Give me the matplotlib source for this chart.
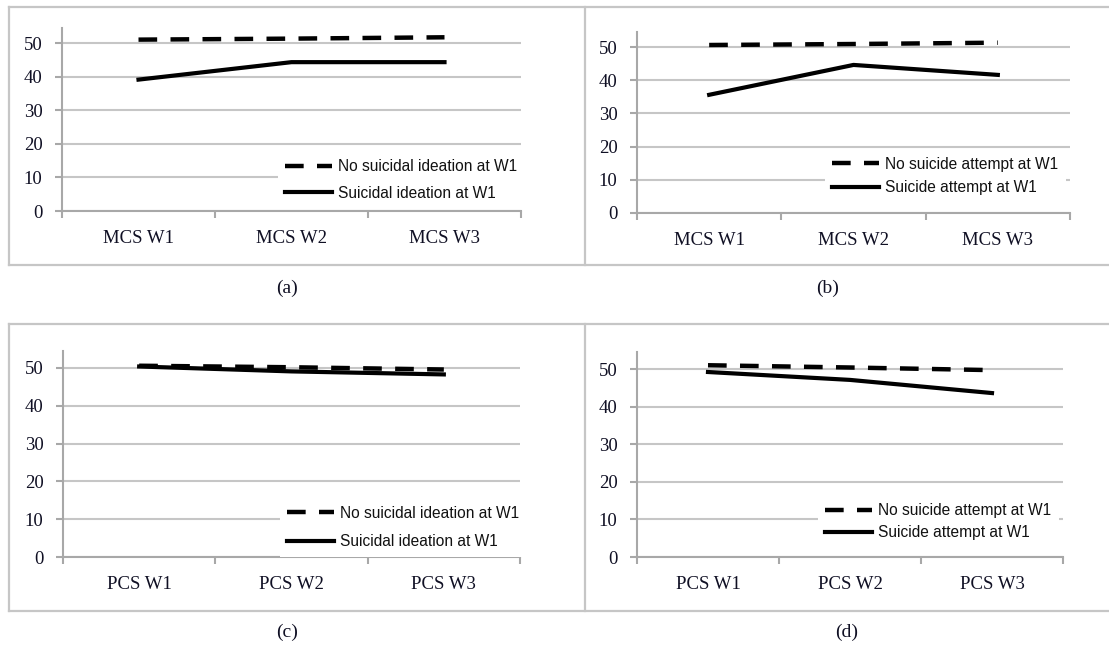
import matplotlib.pyplot as plt
from matplotlib.lines import Line2D

# categories and series
mcs_labels = ['MCS W1', 'MCS W2', 'MCS W3']
pcs_labels = ['PCS W1', 'PCS W2', 'PCS W3']

a_no_ideation = [51.0, 51.3, 51.7]
a_ideation = [39.1, 44.3, 44.3]
b_no_attempt = [50.6, 50.9, 51.3]
b_attempt = [35.6, 44.6, 41.6]
c_no_ideation = [50.6, 50.2, 49.6]
c_ideation = [50.4, 49.1, 48.3]
d_no_attempt = [51.0, 50.4, 49.7]
d_attempt = [49.2, 47.1, 43.6]

ideation_names = ['No suicidal ideation at W1', 'Suicidal ideation at W1']
attempt_names = ['No suicide attempt at W1', 'Suicide attempt at W1']

W, H = 1109, 649
fig = plt.figure(figsize=(W / 100, H / 100), dpi=100)

GRID = '#c6c6c6'
AXIS = '#a8a8a8'
TXT = '#101024'
SERIF = 'Liberation Serif'


def px_axes(left, right, y0, y50):
    scale = (y0 - y50) / 50.0
    top = y0 - 54.5 * scale
    return fig.add_axes([left / W, 1 - y0 / H, (right - left) / W, (y0 - top) / H])


def panel(ax, labels, no_vals, yes_vals, names, leg_x, leg_y, spacing):
    x = range(len(labels))
    ax.set_xlim(-0.5, 2.5)
    ax.set_ylim(0, 54.5)
    ax.set_yticks(range(0, 51, 10))
    ax.yaxis.grid(True, color=GRID, lw=1.5)
    ax.set_axisbelow(True)
    for s in ['top', 'right']:
        ax.spines[s].set_visible(False)
    for s in ['left', 'bottom']:
        ax.spines[s].set_color(AXIS)
        ax.spines[s].set_linewidth(1.5)
    ax.plot(x, no_vals, color='black', lw=3.2, ls=(0, (4.2, 3.0)), label=names[0])
    ax.plot(x, yes_vals, color='black', lw=3.0, label=names[1])
    ax.set_xticks(list(x))
    ax.set_xticklabels(labels, fontfamily=SERIF, fontsize=13.5, color=TXT)
    ax.set_xticks([-0.5, 0.5, 1.5, 2.5], minor=True)
    ax.tick_params(axis='x', which='major', length=0, pad=14)
    ax.tick_params(axis='x', which='minor', length=5, width=1.5, color=AXIS)
    ax.tick_params(axis='y', length=5, width=1.5, color=AXIS, pad=9,
                   labelsize=13.5, labelcolor=TXT)
    for t in ax.get_yticklabels():
        t.set_fontfamily(SERIF)
    leg = ax.legend(loc='center left', bbox_to_anchor=((leg_x - 7.5) / W, 1 - leg_y / H),
                    bbox_transform=fig.transFigure, frameon=True, fancybox=False,
                    framealpha=1, edgecolor='none', facecolor='white',
                    prop={'family': 'Liberation Sans', 'size': 11.2},
                    handlelength=3.0, handletextpad=0.4, labelspacing=spacing,
                    borderpad=0.5, borderaxespad=0)
    for t in leg.get_texts():
        t.set_color('#111111')


ax_a = px_axes(62, 521, 211, 43)
panel(ax_a, mcs_labels, a_no_ideation, a_ideation, ideation_names, 285, 180, 0.75)
ax_b = px_axes(637, 1070, 213, 47)
panel(ax_b, mcs_labels, b_no_attempt, b_attempt, attempt_names, 832, 176, 0.55)
ax_c = px_axes(63, 520, 557, 368)
panel(ax_c, pcs_labels, c_no_ideation, c_ideation, ideation_names, 287, 527.5, 0.85)
ax_d = px_axes(637, 1063, 557, 369)
panel(ax_d, pcs_labels, d_no_attempt, d_attempt, attempt_names, 825, 521.5, 0.45)

# panel borders
def hline(y, x0, x1):
    fig.add_artist(Line2D([x0 / W, x1 / W], [1 - y / H, 1 - y / H], color=GRID, lw=1.6))


def vline(x, y0, y1):
    fig.add_artist(Line2D([x / W, x / W], [1 - y0 / H, 1 - y1 / H], color=GRID, lw=1.6))


for top, bottom in [(7, 265), (324, 611)]:
    hline(top, 9, W)
    hline(bottom, 9, W)
    vline(9, top, bottom)
    vline(585, top, bottom)

# captions
for cap, cx, cy in [('(a)', 287, 288), ('(b)', 828, 288), ('(c)', 287, 632), ('(d)', 847, 632)]:
    fig.text(cx / W, 1 - cy / H, cap, ha='center', va='center',
             fontfamily=SERIF, fontsize=14, color=TXT)

fig.savefig('out.png', dpi=100)
